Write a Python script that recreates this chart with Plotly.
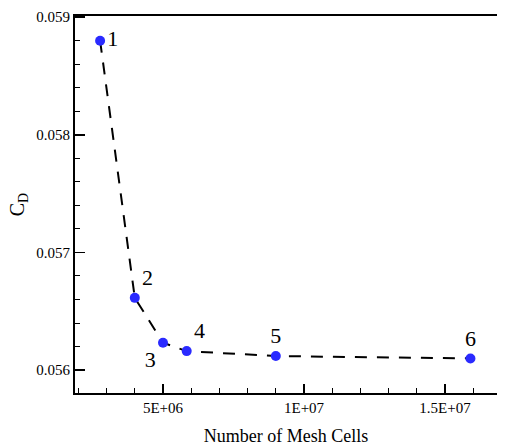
import plotly.graph_objects as go

mesh_cells = [2.77e6, 4.0e6, 5.0e6, 5.84e6, 9.0e6, 1.59e7]
cd_values = [0.05880, 0.056614, 0.056232, 0.056161, 0.056119, 0.056099]
point_labels = ["1", "2", "3", "4", "5", "6"]
label_pos = ["middle right", "top right", "bottom left", "top right", "top center", "top center"]

x_tickvals = [5e6, 1e7, 1.5e7]
x_ticktext = ["5E+06", "1E+07", "1.5E+07"]
x_minor_vals = [2e6, 3e6, 4e6, 6e6, 7e6, 8e6, 9e6, 1.1e7, 1.2e7, 1.3e7, 1.4e7, 1.6e7]
y_tickvals = [0.056, 0.057, 0.058, 0.059]
y_ticktext = ["0.056", "0.057", "0.058", "0.059"]

serif = "Liberation Serif"

fig = go.Figure()
fig.add_trace(go.Scatter(
    x=mesh_cells, y=cd_values,
    mode="lines+markers+text",
    line=dict(color="black", width=2, dash="12px,10px"),
    marker=dict(color="#2a2aff", size=10),
    text=point_labels,
    textposition=label_pos,
    textfont=dict(family=serif, size=22, color="black"),
    cliponaxis=False,
    showlegend=False,
))

fig.update_layout(
    width=510, height=448, autosize=False,
    margin=dict(l=75, r=0, t=16, b=55, pad=0),
    plot_bgcolor="white", paper_bgcolor="white",
    font=dict(family=serif, color="black"),
    showlegend=False,
)
fig.update_xaxes(
    range=[1.88e6, 1.684e7],
    domain=[0, 0.97],
    tickvals=x_tickvals, ticktext=x_ticktext,
    tickfont=dict(size=15, family=serif),
    ticks="inside", ticklen=9, tickwidth=1.5, tickcolor="black",
    minor=dict(tickvals=x_minor_vals,
               ticks="inside", ticklen=5, tickcolor="black", tickwidth=1, showgrid=False),
    showline=True, linecolor="black", linewidth=2, mirror=True,
    showgrid=False, zeroline=False,
    title=dict(text="Number of Mesh Cells", font=dict(size=18, family=serif), standoff=14),
)
fig.update_yaxes(
    range=[0.055805, 0.05901],
    tickvals=y_tickvals, ticktext=y_ticktext,
    tickfont=dict(size=15, family=serif),
    ticks="inside", ticklen=10, tickwidth=1.5, tickcolor="black",
    minor=dict(dtick=0.0002, tick0=0.056, ticks="inside", ticklen=5, tickcolor="black", tickwidth=1, showgrid=False),
    showline=True, linecolor="black", linewidth=2, mirror=False,
    showgrid=False, zeroline=False,
    title=dict(text="C<sub>D</sub>", font=dict(size=20, family=serif), standoff=6),
)

fig.write_html("out.html", config={"displayModeBar": False, "staticPlot": True})
